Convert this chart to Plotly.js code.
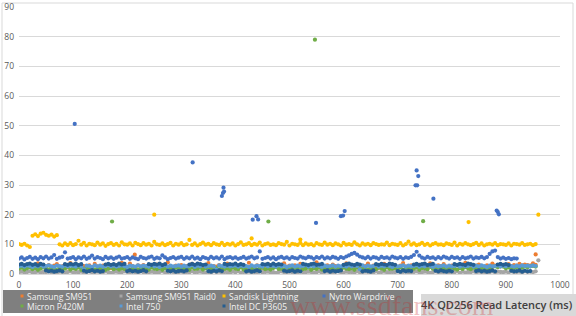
<!DOCTYPE html>
<html>
<head>
<meta charset="utf-8">
<script src="https://cdn.plot.ly/plotly-3.0.1.min.js"></script>
<style>html,body{margin:0;padding:0;background:#fff;}#chart{width:576px;height:316px;}</style>
</head>
<body>
<div id="chart"></div>
<script>
// ---- data (latency in ms, one sample every xStep units) ----
const xStep = 5;
const seriesNames = ["Samsung SM951","Samsung SM951 Raid0","Sandisk Lightning","Nytro Warpdrive","Micron P420M","Intel 750","Intel DC P3605"];
const seriesColors = ["#ED7D31","#A5A5A5","#FFC000","#4472C4","#70AD47","#5B9BD5","#255E91"];

const sm951 = [
2.4,2.9,2.2,3.1,2.6,2.0,2.8,3.6,2.3,2.7,2.5,3.0,2.1,2.8,3.3,2.4,2.6,2.9,2.2,3.7,
2.5,2.8,2.3,3.0,2.7,2.1,2.9,2.4,3.4,2.6,2.2,2.8,3.1,2.5,2.0,2.7,2.9,2.3,3.8,2.6,
2.4,3.5,2.7,2.2,2.9,2.5,3.0,2.3,2.8,2.6,2.1,3.2,2.7,2.4,2.9,3.9,2.5,2.2,2.8,2.6,
3.0,2.3,2.7,2.5,3.4,2.1,2.8,2.6,2.4,2.9,3.7,2.2,2.7,2.5,3.0,2.3,2.8,3.5,2.6,2.4,
2.9,2.2,3.1,2.6,2.4,3.8,2.7,2.3,2.9,2.5,2.1,2.8,3.3,2.6,2.4,3.0,2.2,2.7,3.6,2.5,
2.8,2.3,2.9,2.6,3.4,2.1,2.7,2.5,3.0,2.4,3.9,2.8,2.2,2.6,2.9,2.3,3.2,2.7,2.5,2.1,
2.8,3.6,2.4,2.9,2.6,2.2,3.0,2.5,2.7,3.5,2.3,2.8,2.6,2.1,2.9,3.4,2.4,2.7,2.5,3.0,
2.2,2.8,3.7,2.6,2.4,2.9,2.3,2.7,3.1,2.5,2.8,2.2,3.6,2.6,2.4,2.9,2.7,3.3,2.5,2.1,
2.8,2.6,3.0,2.4,2.9,3.8,2.3,2.7,2.5,2.8,3.2,2.6,2.4,2.9,2.7,3.5,2.8,3.0,2.6,3.1,
2.9,3.3,2.7,3.0,2.8,3.4,2.9,3.2,3.0,2.8,3.6,3.1
];
const sm951OutX = [214, 955];
const sm951OutY = [6.5, 6.6];

const raid0 = [
0.6,0.8,0.5,0.7,0.9,0.4,0.6,0.8,0.5,0.7,0.6,0.9,0.5,0.7,0.4,0.8,0.6,0.5,0.7,0.9,
0.5,0.7,0.6,0.8,0.4,0.7,0.9,0.5,0.6,0.8,0.7,0.5,0.9,0.6,0.4,0.7,0.8,0.5,0.6,0.9,
0.7,0.5,0.8,0.6,0.4,0.9,0.6,0.7,0.5,0.8,0.6,0.4,0.7,0.9,0.5,0.6,0.8,0.7,0.5,0.6,
0.8,0.4,0.7,0.6,0.9,0.5,0.7,0.8,0.6,0.4,0.7,0.5,0.9,0.6,0.8,0.5,0.7,0.6,0.4,0.8,
0.6,0.9,0.5,0.7,0.6,0.8,0.4,0.7,0.5,0.9,0.6,0.7,0.8,0.5,0.6,0.4,0.7,0.9,0.6,0.5,
0.8,0.6,0.7,0.4,0.9,0.5,0.6,0.8,0.7,0.5,0.6,0.9,0.4,0.7,0.8,0.6,0.5,0.7,0.9,0.6,
0.5,0.8,0.6,0.7,0.4,0.9,0.6,0.5,0.8,0.7,0.6,0.4,0.9,0.5,0.7,0.8,0.6,0.5,0.7,0.6,
0.9,0.5,0.7,0.8,0.4,0.6,0.7,0.9,0.5,0.6,0.8,0.7,0.4,0.6,0.9,0.5,0.7,0.6,0.8,0.5,
0.7,0.6,0.9,0.4,0.8,0.5,0.7,0.6,0.9,0.5,0.8,0.6,0.7,0.4,0.6,0.9,0.5,0.8,0.7,0.6,
0.8,0.5,0.9,0.6,0.7,0.8,0.6,0.9,0.7,0.8,0.6,0.9
];
const raid0OutX = [960];
const raid0OutY = [4.6];

const sandisk = [
10.1,9.8,10.2,9.6,9.1,
12.9,13.4,12.8,13.6,13.9,13.2,12.9,13.3,12.6,13.1,
10.0,9.6,10.3,9.8,10.4,9.7,10.1,11.2,9.9,10.5,9.6,10.2,10.0,9.7,10.6,9.9,10.3,9.5,10.1,10.4,
9.8,10.2,9.6,10.7,10.0,9.9,10.3,9.6,10.5,10.1,9.7,10.4,9.9,10.2,9.6,10.8,10.0,9.8,10.3,9.7,
10.1,10.5,9.6,10.2,9.9,10.4,9.7,10.0,11.5,9.8,10.3,9.6,10.1,10.6,9.9,10.2,9.7,10.4,10.0,9.8,
10.5,9.7,10.2,9.9,10.3,9.6,10.1,10.7,9.8,10.0,10.4,9.7,10.2,9.9,10.6,9.6,10.1,10.3,9.8,10.0,
9.7,10.4,10.1,9.9,10.8,9.6,10.2,10.0,9.8,10.5,9.7,10.3,9.9,10.1,9.6,10.4,10.0,9.8,10.6,9.9,
10.2,9.7,10.3,10.0,9.6,10.5,9.9,10.1,9.8,10.7,10.0,9.6,10.3,9.9,10.2,9.7,10.4,10.1,9.8,10.0,
9.9,10.6,9.7,10.2,10.0,9.8,10.4,9.6,10.1,10.9,9.9,10.3,9.7,10.0,10.5,9.8,10.2,9.6,10.1,10.4,
9.9,10.0,9.7,10.3,10.1,9.8,10.6,9.6,10.2,9.9,10.4,10.0,9.7,10.1,10.5,9.8,10.3,9.6,10.0,10.2,
9.9,10.4,9.7,10.1,10.0,9.8,10.3,9.6,10.2,10.1,9.9,10.4,9.8,10.0,10.2,9.7,10.1
];
const sandiskOutX = [250, 430, 520, 831, 960];
const sandiskOutY = [20.0, 12.0, 11.6, 17.5, 20.0];

const nytro = [
5.2,5.6,4.9,5.4,5.8,5.1,5.5,5.0,5.7,5.3,5.9,5.2,5.6,6.4,5.1,5.5,5.8,7.3,5.2,5.4,
5.7,5.0,5.6,5.3,5.9,5.1,5.5,6.2,5.2,5.7,5.4,5.0,5.8,5.3,5.6,5.1,5.5,5.9,5.2,5.4,
5.7,5.1,5.6,5.3,5.0,5.8,5.4,5.2,5.6,5.9,5.1,5.5,5.3,6.3,5.6,5.0,5.4,5.7,5.2,5.5,
5.8,5.1,5.6,5.3,5.9,5.2,5.5,5.0,5.7,5.4,5.1,5.8,5.3,5.6,5.2,5.9,5.0,5.5,5.7,5.3,
5.6,5.1,5.4,5.8,5.2,5.5,5.9,5.3,5.6,7.6,5.1,5.4,5.7,5.2,5.6,5.0,5.5,5.8,5.3,5.6,
5.1,5.7,5.4,5.2,5.9,5.5,5.3,5.8,5.6,5.1,5.7,5.4,5.9,5.2,5.6,5.3,5.8,5.5,5.1,5.7,
5.4,5.9,6.3,6.8,7.1,6.5,5.9,5.6,5.3,5.8,5.2,5.7,5.5,5.1,5.8,5.4,5.6,5.2,5.9,5.5,
5.3,5.7,5.1,5.6,5.4,5.8,6.4,7.5,6.2,5.5,5.2,5.8,5.4,5.6,5.1,5.7,5.3,5.9,5.5,5.2,
5.8,5.4,5.6,5.1,5.7,5.3,5.5,5.9,5.2,5.6,5.4,5.8,5.3,5.7,6.8,7.6,7.9,5.7,5.2,5.5,
5.1,5.4,5.0,5.3,5.2
];
const nytroOutX = [103, 321, 375, 377, 379, 378, 432, 439, 442, 549, 595, 599, 602, 733, 735, 736, 738, 766, 883, 885, 887];
const nytroOutY = [50.6, 37.6, 26.3, 27.3, 27.8, 29.1, 18.3, 19.5, 18.4, 17.2, 19.5, 19.7, 21.2, 29.9, 34.9, 29.9, 33.0, 25.4, 21.4, 20.9, 20.1];

const micron = [
1.8,2.1,1.5,1.9,2.3,1.6,2.0,1.4,1.8,2.2,1.7,1.5,2.0,1.9,1.3,2.1,1.6,1.8,2.4,1.5,
1.9,1.7,2.2,1.4,1.8,2.0,1.6,2.3,1.5,1.9,1.7,2.1,1.4,1.8,2.2,1.6,2.0,1.5,1.9,1.7,
2.3,1.6,1.8,2.0,1.4,2.1,1.7,1.9,1.5,2.2,1.8,1.6,2.0,1.4,1.9,2.3,1.7,1.5,2.1,1.8,
1.6,2.0,1.9,1.4,2.2,1.7,1.8,2.1,1.5,1.9,2.4,1.6,1.8,2.0,1.5,2.2,1.7,1.9,1.4,2.1,
1.8,1.6,2.3,1.5,1.9,2.0,1.7,2.2,1.4,1.8,2.1,1.6,1.9,1.5,2.0,2.3,1.7,1.8,1.6,2.2,
1.5,1.9,2.0,1.7,2.4,1.6,1.8,2.1,1.4,1.9,1.7,2.2,1.5,2.0,1.8,1.6,2.3,1.7,1.9,1.5,
2.1,1.8,1.6,2.0,1.4,2.2,1.9,1.7,2.3,1.5,1.8,2.0,1.6,2.1,1.9,1.4,2.2,1.7,1.8,2.0,
1.6,2.3,1.5,1.9,2.1,1.7,1.8,2.2,1.4,2.0,1.9,1.6,2.4,1.8,1.5,2.1,1.7,2.0,1.9,1.6,
2.2,1.8,1.5,2.0,1.7,2.3,1.9,1.6,2.1,1.8,1.4,2.0,2.2,1.7,1.9,2.4,2.6,2.3,2.8,2.5,
1.9,2.2,1.7,2.0,2.4,1.8,2.1,2.5,2.3,2.6,2.7,2.5
];
const micronOutX = [172, 461, 547, 747];
const micronOutY = [17.7, 17.7, 79.0, 17.8];

const intel750 = [
2.6,2.8,2.5,2.9,2.7,2.4,2.8,2.6,3.0,2.5,2.7,2.9,2.6,2.4,2.8,2.7,2.5,2.9,2.6,2.8,
2.7,2.5,2.9,2.6,1.6,2.8,2.7,2.4,2.9,2.6,2.8,2.5,2.7,3.0,2.6,2.8,2.5,2.7,2.9,2.6,
2.4,2.8,2.7,2.5,2.9,2.6,2.8,2.7,2.5,3.0,2.6,2.8,2.4,2.7,2.9,2.5,2.8,2.6,2.7,2.9,
2.5,2.8,2.6,2.7,3.0,2.4,2.8,2.6,2.9,2.5,2.7,2.8,2.6,1.5,2.9,2.7,2.5,2.8,2.6,2.7,
2.9,2.5,2.8,2.6,2.7,2.4,2.9,2.6,2.8,2.7,2.5,3.0,2.6,2.8,2.7,2.5,2.9,2.6,2.8,2.4,
2.7,2.9,2.5,2.8,2.6,2.7,3.0,2.5,2.8,2.6,2.9,2.7,2.4,2.8,2.6,2.7,2.9,2.5,2.8,2.6,
2.7,2.5,2.9,2.6,2.8,2.7,1.6,2.9,2.5,2.8,2.6,2.7,3.0,2.5,2.8,2.6,2.9,2.7,2.4,2.8,
2.6,2.7,2.9,2.5,2.8,2.6,2.7,3.0,2.5,2.8,2.6,2.9,2.7,2.4,2.8,2.6,2.7,2.9,2.5,2.8,
2.6,2.7,2.9,2.5,2.8,2.6,2.7,3.0,2.5,2.8,2.6,2.9,2.7,2.4,2.8,2.6,2.7,2.9,2.5,2.8,
2.6,2.9,2.7,2.5,2.8,2.6,2.9,2.7,2.8,2.6,2.9,2.7
];

const dcP3605 = [
3.2,3.4,3.0,3.3,3.5,3.1,3.3,2.9,3.4,3.2,
1.2,0.9,1.1,0.8,1.0,1.2,0.9,
3.3,3.1,3.4,3.2,3.5,3.0,3.3,
1.1,0.8,1.0,1.3,0.9,1.1,0.8,1.0,
3.2,3.4,3.1,3.3,3.0,3.5,3.2,3.4,
1.0,1.2,0.9,1.1,0.8,1.0,1.3,0.9,
3.3,3.1,3.4,3.2,3.5,3.0,3.3,
1.1,0.9,1.2,0.8,1.0,1.1,0.9,1.2,
3.2,3.4,3.1,3.5,3.3,3.0,3.2,
1.0,0.8,1.1,0.9,1.2,1.0,
3.4,3.1,3.3,3.2,3.5,3.0,3.3,3.1,
0.9,1.1,0.8,1.0,1.2,0.9,
3.3,3.2,3.4,3.0,3.5,3.1,3.3,3.2,
1.1,0.9,1.0,1.2,0.8,1.1,0.9,
3.4,3.2,3.0,3.3,3.5,3.1,3.2,3.4,
1.0,1.2,0.8,1.1,0.9,1.0,1.2,
3.1,3.3,3.5,3.2,3.0,3.4,3.2,
0.9,1.1,1.0,0.8,1.2,
3.3,3.1,3.4,3.2,3.0,3.5,3.3,3.1,
1.0,0.8,1.2,0.9,1.1,1.0,
3.2,3.4,3.1,3.3,3.5,3.0,3.2,3.4,
1.1,0.9,1.2,1.0,0.8,1.1,0.9,
3.3,3.1,3.4,3.2,3.0,3.5,3.3,3.1,
1.0,1.2,0.9,1.1,0.8,1.0,1.2,0.9,
3.2,3.4,3.1,3.3,3.0,
1.1,0.9,1.0,1.2,0.8,1.1,0.9,1.0
];

const xTickVals = [0,100,200,300,400,500,600,700,800,900,1000];
const yTickVals = [0,10,20,30,40,50,60,70,80,90];
const chartTitle = "4K QD256 Read Latency (ms)";
const watermark = "www.ssdfans.com";

// ---- build traces ----
function withIndex(vals, outX, outY) {
  const x = vals.map((_, i) => i * xStep).concat(outX || []);
  const y = vals.concat(outY || []);
  return {x, y};
}
const seriesData = [
  withIndex(sm951, sm951OutX, sm951OutY),
  withIndex(raid0, raid0OutX, raid0OutY),
  withIndex(sandisk, sandiskOutX, sandiskOutY),
  withIndex(nytro, nytroOutX, nytroOutY),
  withIndex(micron, micronOutX, micronOutY),
  withIndex(intel750),
  withIndex(dcP3605)
];
const traces = seriesData.map((d, i) => ({
  type: 'scatter', mode: 'markers', name: seriesNames[i],
  x: d.x, y: d.y,
  marker: {color: seriesColors[i], size: 4.2, line: {width: 0}},
  hoverinfo: 'skip'
}));

// ---- layout helpers (pixel -> paper) ----
const W = 576, H = 316;
const M = {l: 19, r: 16, t: 7, b: 42};
const PW = W - M.l - M.r, PH = H - M.t - M.b;
const px = v => (v - M.l) / PW;
const py = v => (H - M.b - v) / PH;

const shapes = [
  {type: 'rect', xref: 'paper', yref: 'paper', x0: px(2), x1: px(573), y0: py(320), y1: py(3),
   line: {color: '#D9D9D9', width: 1}, fillcolor: 'rgba(0,0,0,0)', layer: 'below'},
  {type: 'rect', xref: 'paper', yref: 'paper', x0: px(3), x1: px(413), y0: py(313), y1: py(290),
   line: {width: 0}, fillcolor: '#7F7F7F'},
  {type: 'rect', xref: 'paper', yref: 'paper', x0: px(421), x1: px(577), y0: py(318), y1: py(294),
   line: {width: 0}, fillcolor: '#D9D9D9'}
];
const annotations = [];
const legendPos = [[22,296],[121,296],[224,296],[324,296],[22,306],[121,306],[224,306]];
seriesNames.forEach((n, i) => {
  const [lx, ly] = legendPos[i];
  shapes.push({type: 'rect', xref: 'paper', yref: 'paper', x0: px(lx - 1.5), x1: px(lx + 1.5),
    y0: py(ly + 1.5), y1: py(ly - 1.5), line: {width: 0}, fillcolor: seriesColors[i]});
  annotations.push({xref: 'paper', yref: 'paper', x: px(lx + 3), y: py(ly), xanchor: 'left', yanchor: 'middle',
    text: n, showarrow: false, font: {family: 'Open Sans, sans-serif', size: 8.5, color: '#F2F2F2'}});
});
annotations.push({xref: 'paper', yref: 'paper', x: px(497), y: py(304), xanchor: 'center', yanchor: 'middle',
  text: chartTitle, showarrow: false, font: {family: 'Open Sans, sans-serif', size: 11, color: '#404040', weight: 600}});
annotations.push({xref: 'paper', yref: 'paper', x: px(288), y: py(305), xanchor: 'left', yanchor: 'middle',
  text: watermark, showarrow: false, font: {family: 'Liberation Serif, serif', size: 28, color: 'rgba(200,40,40,0.28)'}});

const layout = {
  width: W, height: H,
  margin: M,
  paper_bgcolor: '#FFFFFF', plot_bgcolor: '#FFFFFF',
  showlegend: false,
  xaxis: {range: [0, 1000], tickvals: xTickVals, showgrid: false, zeroline: false,
    showline: true, linecolor: '#D9D9D9', linewidth: 1, ticks: '', ticklabelstandoff: 3,
    tickfont: {family: 'Open Sans, sans-serif', size: 8.5, color: '#595959'}},
  yaxis: {range: [0, 90], tickvals: yTickVals, showgrid: true, gridcolor: '#D9D9D9', gridwidth: 1,
    zeroline: false, showline: false, ticks: '', ticklabelstandoff: 4,
    tickfont: {family: 'Open Sans, sans-serif', size: 8.5, color: '#595959'}},
  shapes: shapes,
  annotations: annotations
};

Plotly.newPlot('chart', traces, layout, {staticPlot: true, displayModeBar: false});
</script>
</body>
</html>
